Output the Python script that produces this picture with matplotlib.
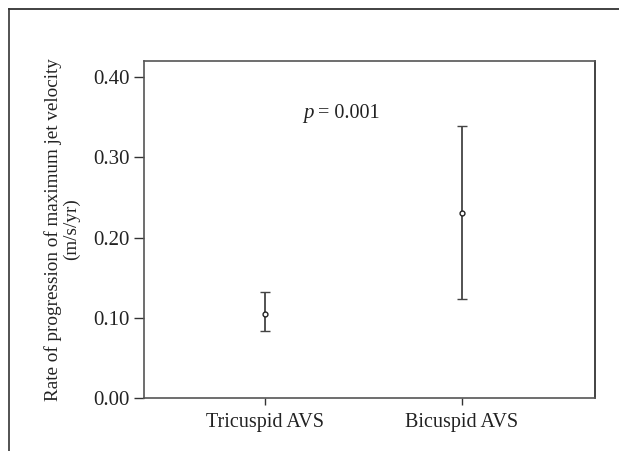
import matplotlib
matplotlib.use("Agg")
import matplotlib.pyplot as plt
from matplotlib.lines import Line2D

groups = ["Tricuspid AVS", "Bicuspid AVS"]
means = [0.105, 0.230]
lower = [0.084, 0.123]
upper = [0.132, 0.339]
yticks = [0.00, 0.10, 0.20, 0.30, 0.40]
p_text = "= 0.001"

plt.rcParams['font.family'] = ['Liberation Serif', 'DejaVu Serif']

fig = plt.figure(figsize=(6.19, 4.51), dpi=100)
W, H = 619, 451
ax = fig.add_axes([144 / W, 1 - 398 / H, (595 - 144) / W, (398 - 61) / H])

x = [1, 2]
yerr = [[m - l for m, l in zip(means, lower)], [u - m for m, u in zip(means, upper)]]
ax.errorbar(x, means, yerr=yerr, fmt='o', color='#333333', ecolor='#444444',
            elinewidth=1.3, capsize=3.5, capthick=1.3, markersize=3.5,
            markerfacecolor='white', markeredgecolor='#222222', markeredgewidth=1.0)

ax.set_xlim(0.387, 2.675)
ax.set_ylim(0, 0.42)
ax.set_yticks(yticks)
ax.set_yticklabels([f"{v:.2f}" for v in yticks])
ax.set_xticks(x)
ax.set_xticklabels(groups)
ax.tick_params(axis='y', direction='out', length=7, width=1, colors='#333333', labelsize=15, pad=3, labelcolor='#222222')
ax.tick_params(axis='x', direction='out', length=5, width=1, colors='#333333', labelsize=14.5, pad=6, labelcolor='#222222')
for s in ax.spines.values():
    s.set_color('#555555')
    s.set_linewidth(1.2)
ax.spines['right'].set_color('#222222')

ax.set_ylabel("Rate of progression of maximum jet velocity\n(m/s/yr)", fontsize=13.8,
              color='#222222', linespacing=1.0, labelpad=10)

ax.text(1.194, 0.354, "p", fontsize=15, style='italic', va='center', ha='left', color='#222222')
ax.text(1.27, 0.354, p_text, fontsize=14.5, va='center', ha='left', color='#222222')

fig.add_artist(Line2D([9 / W, 9 / W], [0, 1 - 9 / H], color='#444444', lw=1.3, transform=fig.transFigure))
fig.add_artist(Line2D([9 / W, 1], [1 - 9 / H, 1 - 9 / H], color='#333333', lw=1.3, transform=fig.transFigure))

fig.savefig("out.png", dpi=100)
